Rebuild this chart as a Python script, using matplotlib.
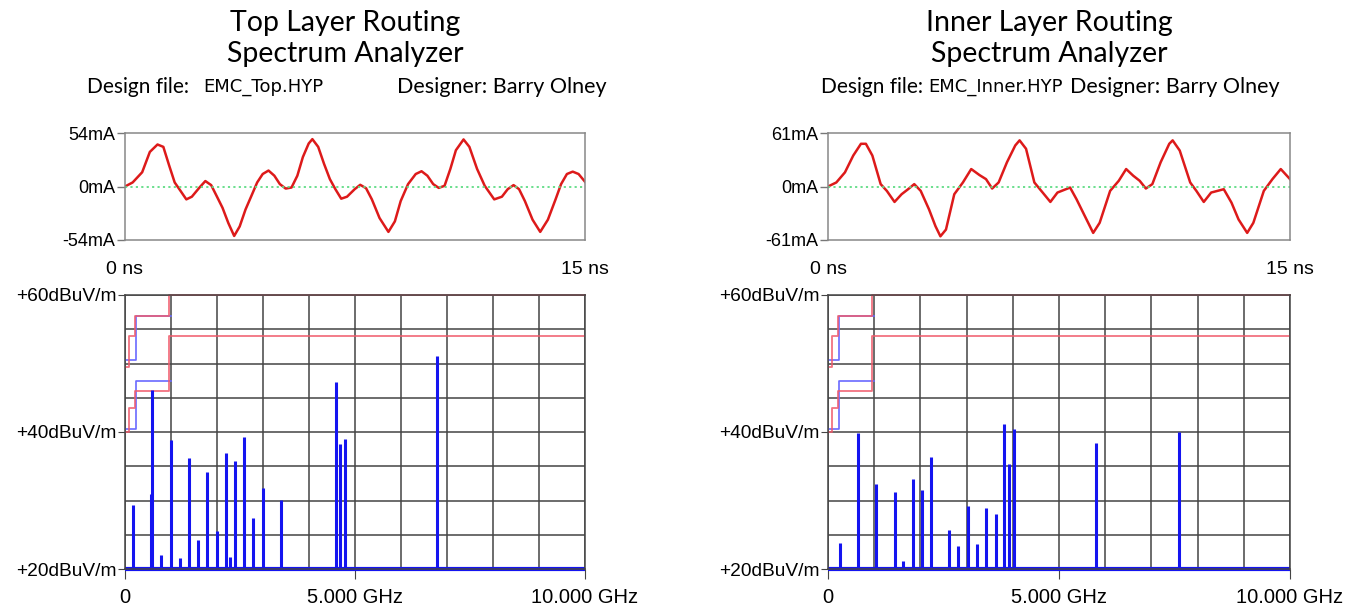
import matplotlib.pyplot as plt
import numpy as np

# ---- time-domain current waveforms (ns, mA) ----
top_t = [0.0, 0.25, 0.56, 0.81, 1.06, 1.25, 1.44, 1.62, 1.81, 2.00, 2.18, 2.43, 2.62, 2.81,
         3.00, 3.18, 3.37, 3.56, 3.74, 3.93, 4.12, 4.31, 4.49, 4.68, 4.87, 5.05, 5.24, 5.43,
         5.62, 5.80, 5.99, 6.11, 6.30, 6.49, 6.68, 6.86, 7.05, 7.24, 7.49, 7.67, 7.86, 8.05,
         8.30, 8.59, 8.80, 8.99, 9.23, 9.48, 9.67, 9.86, 10.05, 10.23, 10.42, 10.61, 10.79,
         11.04, 11.23, 11.48, 11.73, 12.04, 12.29, 12.48, 12.67, 12.85, 13.04, 13.29, 13.54,
         13.79, 14.04, 14.22, 14.41, 14.60, 14.79, 15.0]
top_i = [0.0, 4.1, 14.4, 34.9, 42.4, 40.0, 21.2, 4.1, -4.4, -13.0, -10.3, -1.0, 5.5, 1.4,
         -10.3, -21.5, -36.9, -49.9, -40.3, -23.2, -9.6, 4.1, 12.6, 16.1, 10.9, 2.4, -2.1, -1.0,
         10.9, 29.7, 43.4, 47.8, 40.0, 22.9, 7.5, -2.7, -12.3, -10.3, -2.7, 1.7, -1.7, -13.0,
         -31.8, -45.8, -35.2, -14.7, 2.4, 12.6, 15.4, 10.9, 2.4, -1.4, 0.7, 17.8, 36.6,
         47.5, 40.0, 17.8, 0.7, -13.0, -10.3, -2.7, 1.4, -2.7, -14.7, -33.5, -45.8,
         -33.5, -13.0, 2.4, 12.6, 15.0, 12.6, 4.8]

inner_t = [0.0, 0.27, 0.55, 0.82, 1.07, 1.23, 1.44, 1.71, 1.91, 2.16, 2.39, 2.60, 2.80, 3.01,
           3.28, 3.49, 3.65, 3.83, 4.10, 4.38, 4.65, 4.92, 5.13, 5.33, 5.54, 5.81, 6.08, 6.22,
           6.43, 6.70, 6.97, 7.22, 7.45, 7.86, 8.07, 8.34, 8.61, 8.82, 9.16, 9.44, 9.68, 9.91,
           10.12, 10.32, 10.53, 10.80, 11.08, 11.19, 11.42, 11.76, 11.96, 12.20, 12.44, 12.85,
           13.10, 13.33, 13.61, 13.81, 14.15, 14.43, 14.70, 15.0]
inner_i = [0.0, 4.6, 16.1, 35.3, 48.7, 48.7, 35.3, 2.7, -5.0, -17.6, -8.8, -3.1, 2.7, -5.0,
           -26.1, -45.3, -56.8, -49.1, -8.8, 4.6, 19.9, 13.0, 8.4, -2.3, 4.6, 27.6, 46.8, 52.6,
           43.0, 4.6, -6.9, -17.6, -6.9, -1.2, -14.6, -33.8, -52.9, -41.4, -5.0, 6.5, 19.9, 12.3,
           6.5, -2.3, 2.7, 27.6, 48.7, 52.6, 41.0, 4.6, -5.0, -17.6, -6.9, -3.1,
           -18.4, -37.6, -52.9, -41.4, -5.0, 8.4, 19.9, 8.4]

# ---- spectrum lines (GHz, dBuV/m) ----
top_f = [0.18, 0.57, 0.59, 0.79, 1.00, 1.20, 1.40, 1.59, 1.79, 1.99, 2.19, 2.29, 2.39, 2.59,
         2.79, 2.99, 3.39, 4.59, 4.67, 4.78, 6.78]
top_db = [29.3, 30.9, 46.1, 22.0, 38.8, 21.6, 36.2, 24.3, 34.2, 25.6, 36.9, 21.8, 35.8, 39.2,
          27.4, 31.8, 30.1, 47.3, 38.2, 39.0, 51.1]

inner_f = [0.26, 0.65, 1.04, 1.44, 1.63, 1.84, 2.03, 2.23, 2.62, 2.82, 3.02, 3.22, 3.42, 3.63,
           3.82, 3.91, 4.02, 5.80, 7.60]
inner_db = [23.8, 39.8, 32.4, 31.3, 21.2, 33.1, 31.6, 36.4, 25.7, 23.3, 29.2, 23.6, 28.9, 28.1,
            41.1, 35.3, 40.4, 38.4, 40.0]

floor_db = 20

# ---- emission limits (GHz, dBuV/m) ----
fcc_a_f = [0.03, 0.088, 0.088, 0.216, 0.216, 0.96, 0.96, 10.0]
fcc_a_db = [49.5, 49.5, 54.0, 54.0, 56.9, 56.9, 60.0, 60.0]
fcc_b_f = [0.03, 0.088, 0.088, 0.216, 0.216, 0.96, 0.96, 10.0]
fcc_b_db = [40.0, 40.0, 43.5, 43.5, 46.0, 46.0, 54.0, 54.0]
cispr_a_f = [0.03, 0.23, 0.23, 1.0]
cispr_a_db = [50.5, 50.5, 57.0, 57.0]
cispr_b_f = [0.03, 0.23, 0.23, 1.0]
cispr_b_db = [40.5, 40.5, 47.5, 47.5]

panels = [
    dict(title="Top Layer Routing", file="EMC_Top.HYP", amp=54, t=top_t, i=top_i,
         f=top_f, db=top_db, x0=125, w=460,
         dfile_x=87, file_x=203, designer_x=397),
    dict(title="Inner Layer Routing", file="EMC_Inner.HYP", amp=61, t=inner_t, i=inner_i,
         f=inner_f, db=inner_db, x0=828, w=462,
         dfile_x=821, file_x=928, designer_x=1070),
]

W, H = 1361, 609
fig = plt.figure(figsize=(W / 100, H / 100), dpi=100)
title_font = "Lato"
arial = "Liberation Sans"

for p in panels:
    left = p["x0"] / W
    width = p["w"] / W
    cx = (p["x0"] + p["w"] / 2 - 10) / W

    fig.text(cx, 1 - 23 / H, p["title"], ha="center", va="center", fontsize=20.5,
             family=title_font)
    fig.text(cx, 1 - 54 / H, "Spectrum Analyzer", ha="center", va="center", fontsize=20.5,
             family=title_font)
    fig.text(p["dfile_x"] / W, 1 - 87 / H, "Design file:", ha="left", va="center",
             fontsize=15, family=title_font)
    fig.text(p["file_x"] / W, 1 - 87 / H, p["file"], ha="left", va="center", fontsize=13,
             family="Liberation Sans Narrow")
    fig.text(p["designer_x"] / W, 1 - 87 / H, "Designer: Barry Olney", ha="left", va="center",
             fontsize=15.5, family=title_font)

    # waveform
    ax = fig.add_axes([left, 1 - 240 / H, width, 107 / H])
    a = p["amp"]
    ax.plot(p["t"], p["i"], color="#dd1a1a", lw=1.8)
    ax.axhline(0, color="#5fdc85", lw=1.3, ls=(0, (1.2, 1.8)))
    ax.set_xlim(0, 15)
    ax.set_ylim(-a, a)
    ax.set_yticks([-a, 0, a], [f"-{a}mA", "0mA", f"{a}mA"], family=arial, size=13)
    ax.set_xticks([0, 15], ["0 ns", "15 ns"], family=arial, size=14)
    ax.tick_params(axis="y", length=6, width=1, color="#777777", pad=1)
    ax.tick_params(axis="x", length=0, pad=15)
    for s in ax.spines.values():
        s.set_color("#888888")
        s.set_linewidth(1.1)

    # spectrum
    ax = fig.add_axes([left, 1 - 569 / H, width, 274 / H])
    ax.set_xlim(0, 10)
    ax.set_ylim(20, 60)
    ax.set_xticks([0, 5, 10], ["0", "5.000 GHz", "10.000 GHz"], family=arial, size=14.5)
    ax.set_xticks(np.arange(0, 11, 1), minor=True)
    ax.set_yticks([20, 40, 60], ["+20dBuV/m", "+40dBuV/m", "+60dBuV/m"], family=arial,
                  size=13.8)
    ax.set_yticks(np.arange(20, 61, 5), minor=True)
    ax.grid(True, which="both", color="#444444", lw=1.1)
    ax.tick_params(axis="both", which="minor", length=0)
    ax.tick_params(axis="y", which="major", length=5, color="#444444", pad=1)
    ax.tick_params(axis="x", which="major", length=7, color="#444444", pad=7)
    for s in ax.spines.values():
        s.set_color("#444444")
        s.set_linewidth(1.1)
    ax.set_axisbelow(True)

    ax.plot(cispr_a_f, cispr_a_db, color="#6a6aff", lw=1.2)
    ax.plot(cispr_b_f, cispr_b_db, color="#6a6aff", lw=1.2)
    ax.plot(fcc_a_f, fcc_a_db, color="#f05a6a", lw=1.3, alpha=0.85, clip_on=False)
    ax.plot(fcc_b_f, fcc_b_db, color="#f05a6a", lw=1.3, alpha=0.85)

    ax.vlines(p["f"], floor_db, p["db"], color="#1414f0", lw=2.2, clip_on=False)
    ax.hlines(floor_db, 0, 10, color="#1414f0", lw=3.0, clip_on=False)

fig.savefig("out.png", dpi=100)
